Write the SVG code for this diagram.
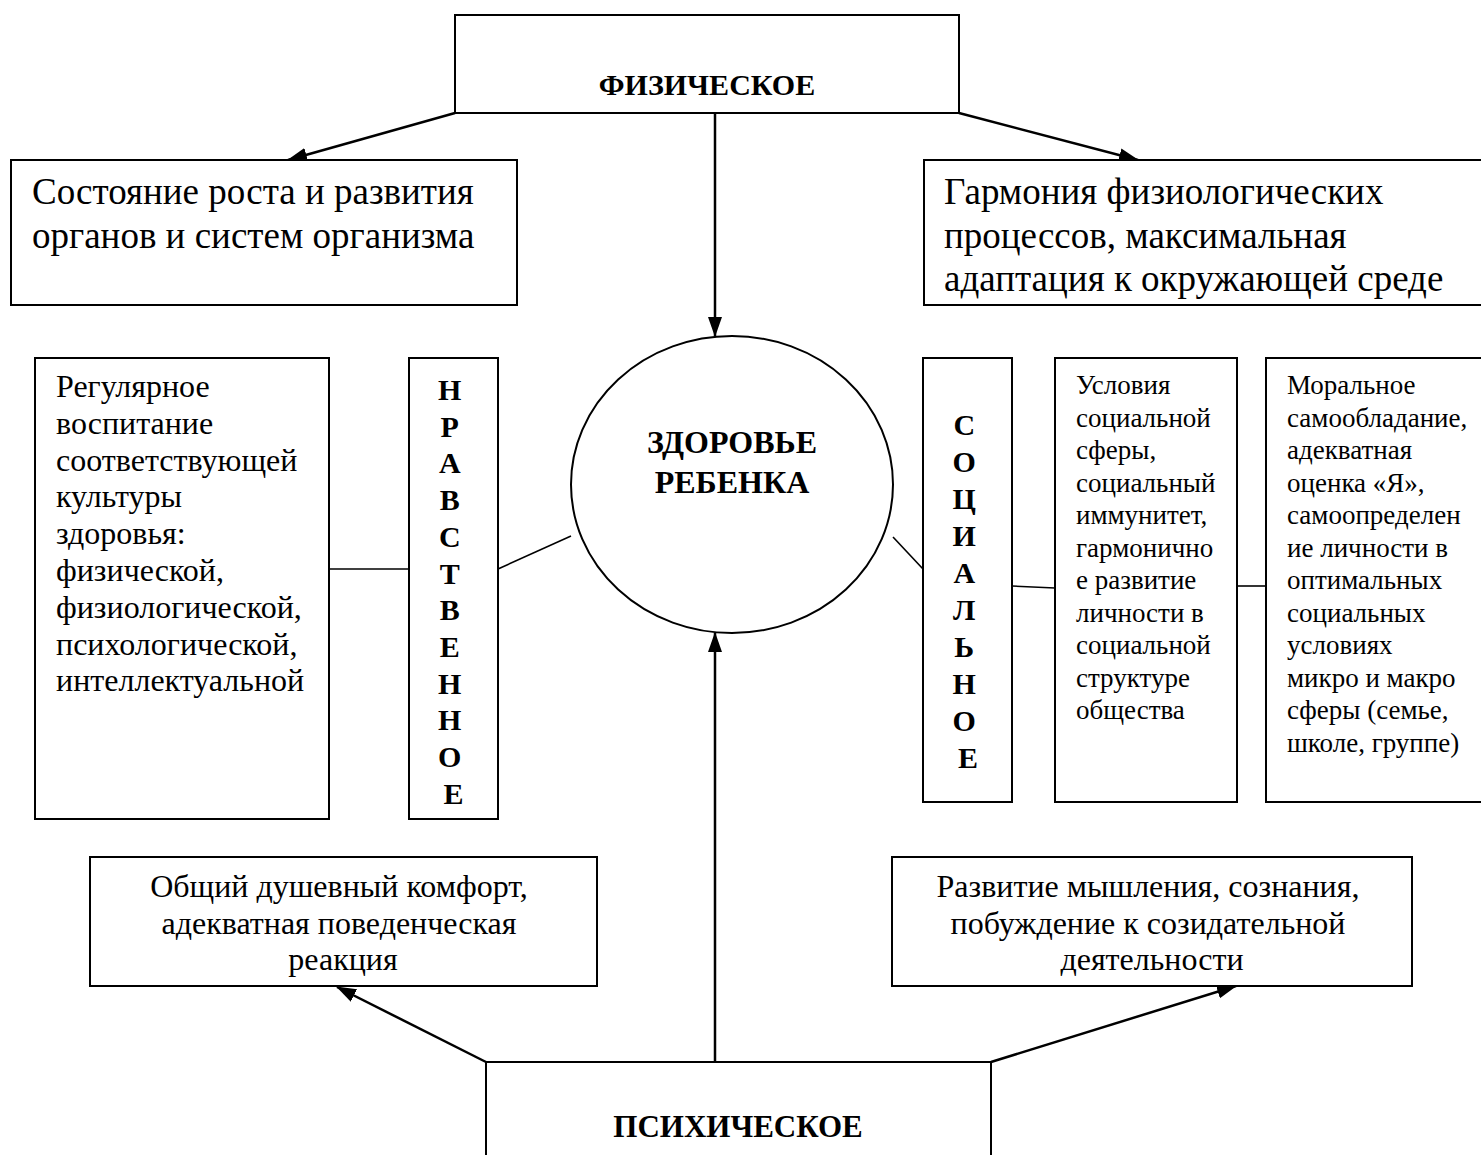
<svg xmlns="http://www.w3.org/2000/svg" width="1481" height="1155" viewBox="0 0 1481 1155">
<defs>
<style>
.box{fill:#fff;stroke:#000;stroke-width:2}
.t{font-family:"Liberation Serif","Times New Roman",serif;fill:#000}
.b{font-weight:bold}
.arr{stroke:#000;stroke-width:2.5;fill:none}
.ln{stroke:#000;stroke-width:1.6;fill:none}
</style>
<marker id="ah" markerUnits="userSpaceOnUse" markerWidth="20" markerHeight="16" viewBox="0 0 20 16" refX="19" refY="8" orient="auto">
<path d="M0,1 L20,8 L0,15 Z" fill="#000"/>
</marker>
</defs>
<rect width="1481" height="1155" fill="#fff"/>
<g id="connectors">
<line class="arr" x1="455" y1="113" x2="288" y2="160" marker-end="url(#ah)"/>
<line class="arr" x1="959" y1="113" x2="1138" y2="160" marker-end="url(#ah)"/>
<line class="arr" x1="715" y1="113" x2="715" y2="336" marker-end="url(#ah)"/>
<line class="arr" x1="715" y1="1062" x2="715" y2="633" marker-end="url(#ah)"/>
<line class="arr" x1="486" y1="1062" x2="337" y2="987" marker-end="url(#ah)"/>
<line class="arr" x1="991" y1="1062" x2="1236" y2="986" marker-end="url(#ah)"/>
<line class="ln" x1="329" y1="569" x2="409" y2="569"/>
<line class="ln" x1="498" y1="569" x2="571" y2="536"/>
<line class="ln" x1="893" y1="537" x2="923" y2="569"/>
<line class="ln" x1="1012" y1="586" x2="1055" y2="588"/>
<line class="ln" x1="1237" y1="586" x2="1266" y2="586"/>
</g>
<g id="fizicheskoe">
<rect class="box" x="455" y="15" width="504" height="98"/>
<text class="t b" x="707" y="95" font-size="30" text-anchor="middle">ФИЗИЧЕСКОЕ</text>
</g>
<g id="sostoyanie">
<rect class="box" x="11" y="160" width="506" height="145"/>
<text class="t" x="32" y="204" font-size="37">Состояние роста и развития</text>
<text class="t" x="32" y="248" font-size="37">органов и систем организма</text>
</g>
<g id="garmoniya">
<rect class="box" x="924" y="160" width="570" height="145"/>
<text class="t" x="944" y="204" font-size="37">Гармония физиологических</text>
<text class="t" x="944" y="248" font-size="37">процессов, максимальная</text>
<text class="t" x="944" y="291" font-size="37">адаптация к окружающей среде</text>
</g>
<g id="zdorovie">
<ellipse class="box" cx="732" cy="484.5" rx="161" ry="148.5"/>
<text class="t b" x="732" y="453" font-size="32" text-anchor="middle">ЗДОРОВЬЕ</text>
<text class="t b" x="732" y="493" font-size="32" text-anchor="middle">РЕБЕНКА</text>
</g>
<g id="regulyarnoe">
<rect class="box" x="35" y="358" width="294" height="461"/>
<text class="t" x="56" y="397" font-size="32">
<tspan x="56" dy="0">Регулярное</tspan>
<tspan x="56" dy="36.8">воспитание</tspan>
<tspan x="56" dy="36.8">соответствующей</tspan>
<tspan x="56" dy="36.8">культуры</tspan>
<tspan x="56" dy="36.8">здоровья:</tspan>
<tspan x="56" dy="36.8">физической,</tspan>
<tspan x="56" dy="36.8">физиологической,</tspan>
<tspan x="56" dy="36.8">психологической,</tspan>
<tspan x="56" dy="36.8">интеллектуальной</tspan>
</text>
</g>
<g id="nravstvennoe">
<rect class="box" x="409" y="358" width="89" height="461"/>
<text class="t b" font-size="30" text-anchor="middle">
<tspan x="453.5" y="400">Н</tspan>
<tspan x="453.5" y="436.7">Р</tspan>
<tspan x="453.5" y="473.4">А</tspan>
<tspan x="453.5" y="510.1">В</tspan>
<tspan x="453.5" y="546.8">С</tspan>
<tspan x="453.5" y="583.5">Т</tspan>
<tspan x="453.5" y="620.2">В</tspan>
<tspan x="453.5" y="656.9">Е</tspan>
<tspan x="453.5" y="693.6">Н</tspan>
<tspan x="453.5" y="730.3">Н</tspan>
<tspan x="453.5" y="767">О</tspan>
<tspan x="453.5" y="803.7">Е</tspan>
</text>
</g>
<g id="socialnoe">
<rect class="box" x="923" y="358" width="89" height="444"/>
<text class="t b" font-size="30" text-anchor="middle">
<tspan x="968" y="435">С</tspan>
<tspan x="968" y="472">О</tspan>
<tspan x="968" y="509">Ц</tspan>
<tspan x="968" y="546">И</tspan>
<tspan x="968" y="583">А</tspan>
<tspan x="968" y="620">Л</tspan>
<tspan x="968" y="657">Ь</tspan>
<tspan x="968" y="694">Н</tspan>
<tspan x="968" y="731">О</tspan>
<tspan x="968" y="768">Е</tspan>
</text>
</g>
<g id="usloviya">
<rect class="box" x="1055" y="358" width="182" height="444"/>
<text class="t" font-size="27">
<tspan x="1076" y="394">Условия</tspan>
<tspan x="1076" dy="32.5">социальной</tspan>
<tspan x="1076" dy="32.5">сферы,</tspan>
<tspan x="1076" dy="32.5">социальный</tspan>
<tspan x="1076" dy="32.5">иммунитет,</tspan>
<tspan x="1076" dy="32.5">гармонично</tspan>
<tspan x="1076" dy="32.5">е развитие</tspan>
<tspan x="1076" dy="32.5">личности в</tspan>
<tspan x="1076" dy="32.5">социальной</tspan>
<tspan x="1076" dy="32.5">структуре</tspan>
<tspan x="1076" dy="32.5">общества</tspan>
</text>
</g>
<g id="moralnoe">
<rect class="box" x="1266" y="358" width="230" height="444"/>
<text class="t" font-size="27">
<tspan x="1287" y="394">Моральное</tspan>
<tspan x="1287" dy="32.5">самообладание,</tspan>
<tspan x="1287" dy="32.5">адекватная</tspan>
<tspan x="1287" dy="32.5">оценка «Я»,</tspan>
<tspan x="1287" dy="32.5">самоопределен</tspan>
<tspan x="1287" dy="32.5">ие личности в</tspan>
<tspan x="1287" dy="32.5">оптимальных</tspan>
<tspan x="1287" dy="32.5">социальных</tspan>
<tspan x="1287" dy="32.5">условиях</tspan>
<tspan x="1287" dy="32.5">микро и макро</tspan>
<tspan x="1287" dy="32.5">сферы (семье,</tspan>
<tspan x="1287" dy="32.5">школе, группе)</tspan>
</text>
</g>
<g id="komfort">
<rect class="box" x="90" y="857" width="507" height="129"/>
<text class="t" font-size="32" text-anchor="middle">
<tspan x="343" y="897">Общий душевный комфорт,</tspan>
<tspan x="343" y="933.5">адекватная поведенческая</tspan>
<tspan x="343" y="970">реакция</tspan>
</text>
</g>
<g id="myshlenie">
<rect class="box" x="892" y="857" width="520" height="129"/>
<text class="t" font-size="32" text-anchor="middle">
<tspan x="1152" y="897">Развитие мышления, сознания,</tspan>
<tspan x="1152" y="933.5">побуждение к созидательной</tspan>
<tspan x="1152" y="970">деятельности</tspan>
</text>
</g>
<g id="psihicheskoe">
<rect class="box" x="486" y="1062" width="505" height="110"/>
<text class="t b" x="738" y="1137" font-size="31" text-anchor="middle">ПСИХИЧЕСКОЕ</text>
</g>
</svg>
